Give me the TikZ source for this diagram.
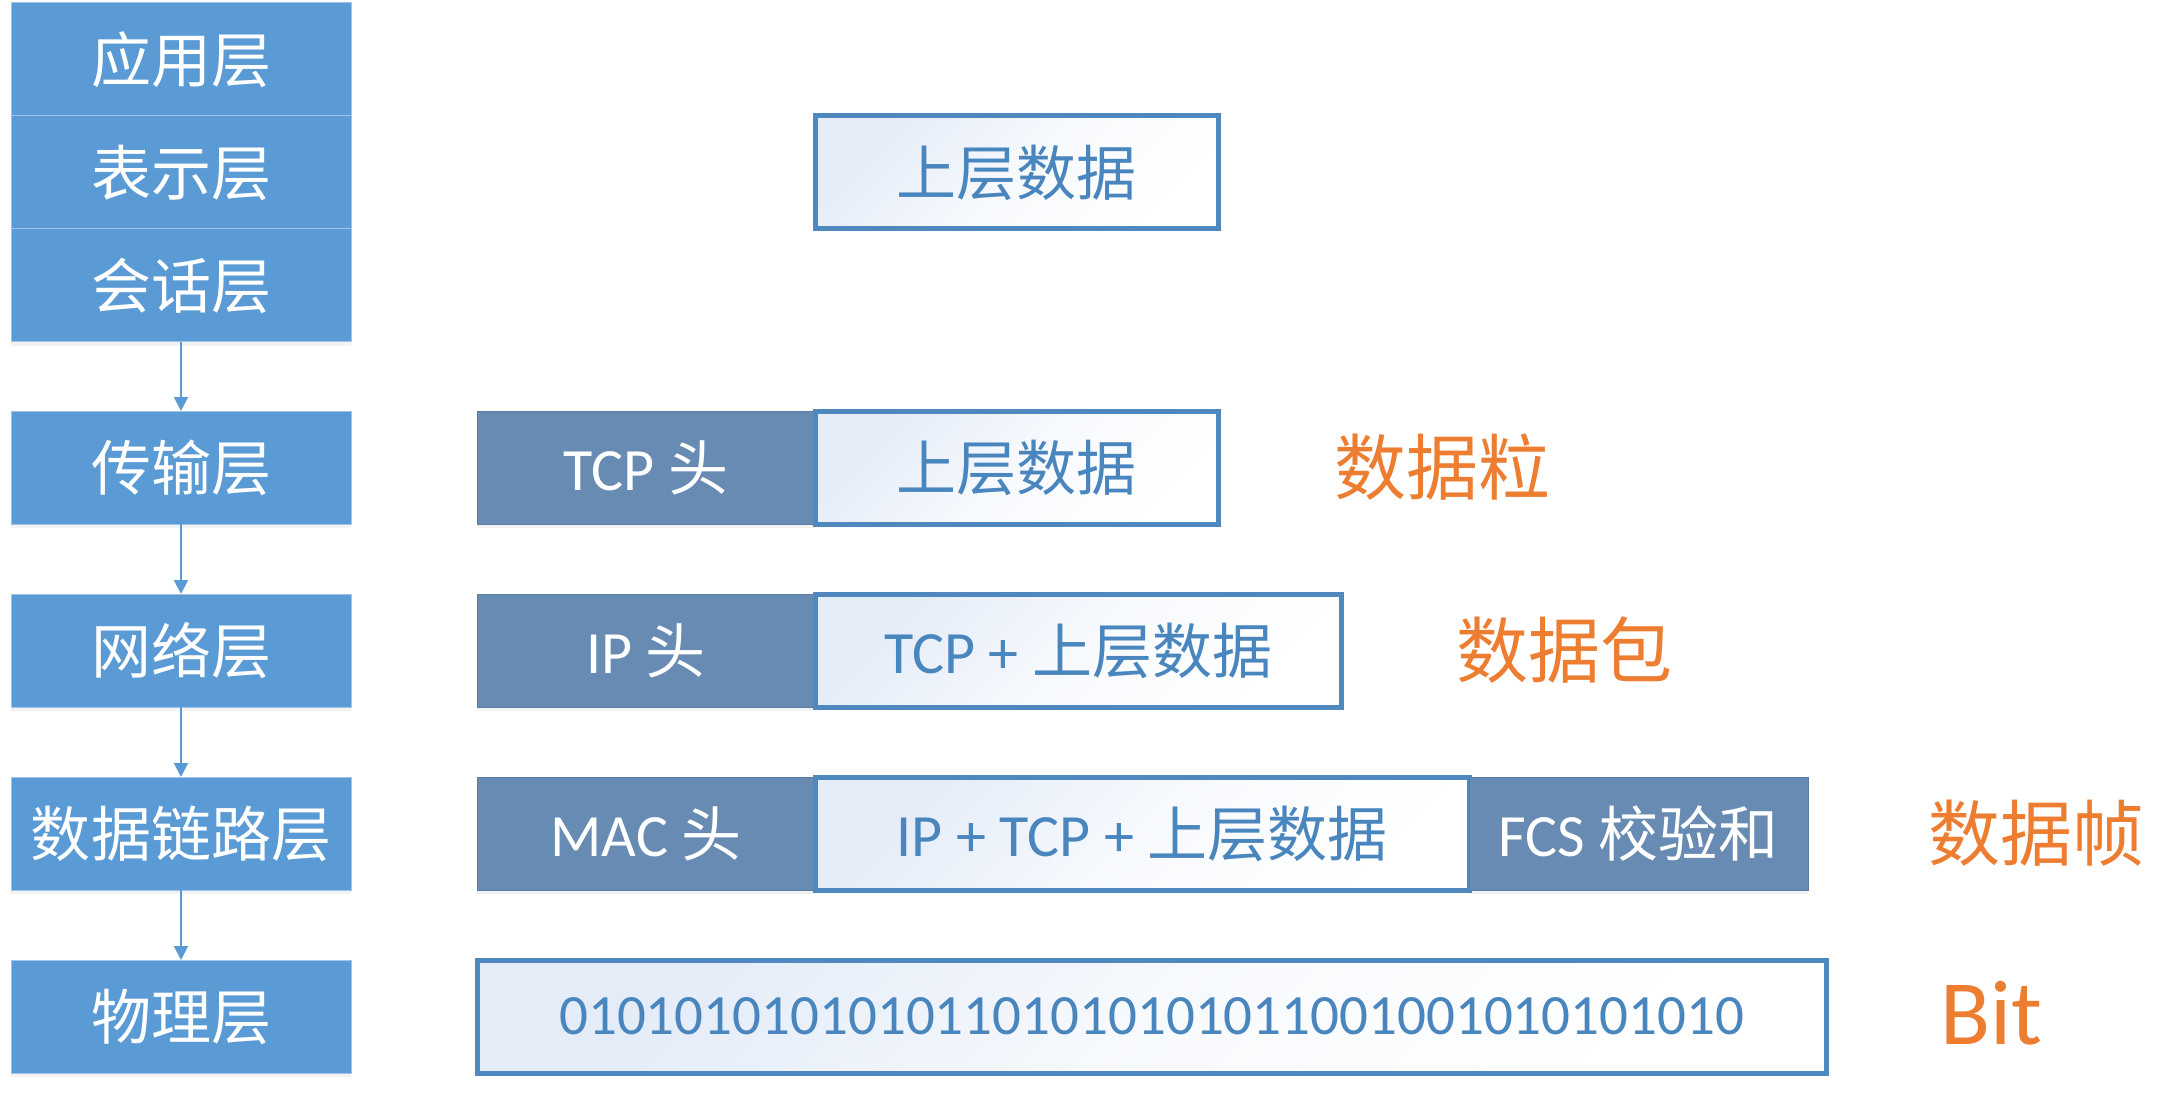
\documentclass[tikz,border=0pt]{standalone}
\usepackage{fontspec}
\setmainfont{Carlito}
\newfontfamily\cjk{Noto Sans CJK SC}
\usetikzlibrary{positioning,arrows.meta,shadows}
\newcommand{\zh}[1]{{\cjk #1}}

\definecolor{layerblue}{RGB}{91,155,213}
\definecolor{layerline}{RGB}{160,197,232}
\definecolor{headblue}{RGB}{103,139,179}
\definecolor{headline}{RGB}{92,126,166}
\definecolor{databorder}{RGB}{79,136,190}
\definecolor{datatext}{RGB}{74,134,190}
\definecolor{datatint}{RGB}{228,236,248}
\definecolor{unitorange}{RGB}{237,125,49}

\tikzset{
	boxfont/.style={font=\fontsize{30pt}{36pt}\selectfont},
	layer/.style={draw=layerline, line width=0.5pt, fill=layerblue, text=white,
		minimum width=170pt, minimum height=56.5pt, inner sep=0pt, outer sep=0pt, boxfont,
		drop shadow={opacity=0.1, shadow xshift=0pt, shadow yshift=-2pt}},
	header/.style={draw=headline, line width=0.5pt, fill=headblue, text=white,
		minimum width=169pt, minimum height=56.5pt, inner sep=0pt, outer sep=0pt, boxfont,
		drop shadow={opacity=0.1, shadow xshift=0pt, shadow yshift=-2pt}},
	payload/.style={draw=databorder, line width=2.5pt, top color=datatint, bottom color=white,
		middle color=white!70!datatint, shading angle=45, text=datatext,
		minimum height=56.5pt, inner sep=0pt, outer sep=0pt, boxfont},
	unit/.style={text=unitorange, inner sep=0pt, outer sep=0pt, font=\fontsize{36pt}{42pt}\selectfont},
	down/.style={draw=layerblue, line width=1pt, -{Triangle[length=7pt,width=7pt]}}
}

\begin{document}
\begin{tikzpicture}[x=0.5pt, y=-0.5pt]
		\useasboundingbox (0,0) rectangle (2177,1117);

		% Define nodes
		\node[layer] (app) at (181,59.5) {\zh{应用层}};
		\node[layer, below=0pt of app] (pres) {\zh{表示层}};
		\node[layer, below=0pt of pres] (sess) {\zh{会话层}};
		\node[layer, below=34.5pt of sess] (trans) {\zh{传输层}};
		\node[layer, below=35pt of trans] (net) {\zh{网络层}};
		\node[layer, below=35pt of net] (link) {\zh{数据链路层}};
		\node[layer, below=35pt of link] (phys) {\zh{物理层}};

		% Units of each layer
		\node[header, right=63pt of trans] (tcphead) {TCP \zh{头}};
		\node[payload, minimum width=201.5pt, right=0pt of tcphead] (tcpdata) {\zh{上层数据}};
		\node[payload, minimum width=201.5pt, above=91pt of tcpdata] (topdata) {\zh{上层数据}};

		\node[header, right=63pt of net] (iphead) {IP \zh{头}};
		\node[payload, minimum width=263pt, right=0pt of iphead] (ipdata) {TCP + \zh{上层数据}};

		\node[header, right=63pt of link] (machead) {MAC \zh{头}};
		\node[payload, minimum width=327pt, right=0pt of machead] (macdata) {IP + TCP + \zh{上层数据}};
		\node[header, minimum width=169.5pt, right=0pt of macdata] (fcs) {FCS \zh{校验和}};

		\node[payload, minimum width=674.5pt, right=63pt of phys,
			font=\fontsize{28.5pt}{34pt}\selectfont] (bits) {01010101010101101010101011001001010101010};

		% Unit names
		\node[unit, right=58pt of tcpdata] (segment) {\zh{数据粒}};
		\node[unit, right=57.5pt of ipdata] (packet) {\zh{数据包}};
		\node[unit, right=60pt of fcs] (frame) {\zh{数据帧}};
		\node[unit, right=57pt of bits, yshift=1.5pt, font=\fontsize{46pt}{52pt}\selectfont] (bit) {Bit};

		% Connect the nodes
		\draw[down] (sess) -- (trans);
		\draw[down] (trans) -- (net);
		\draw[down] (net) -- (link);
		\draw[down] (link) -- (phys);

\end{tikzpicture}
\end{document}
